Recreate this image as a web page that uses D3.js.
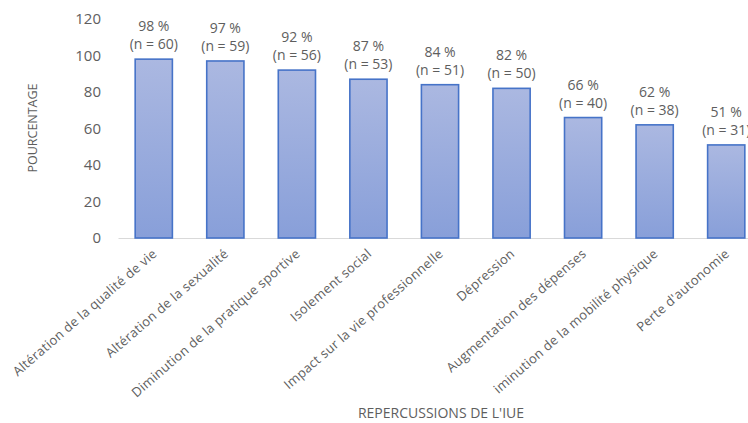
<!DOCTYPE html>
<html>
<head>
<meta charset="utf-8">
<script src="https://cdn.jsdelivr.net/npm/d3@7"></script>
<style>
  html, body { margin: 0; padding: 0; background: #fff; }
  svg { display: block; font-family: "Open Sans", "DejaVu Sans", sans-serif; }
</style>
</head>
<body>
<svg id="chart" width="748" height="423"></svg>
<script>
const categories = [
  "Altération de la qualité de vie",
  "Altération de la sexualité",
  "Diminution de la pratique sportive",
  "Isolement social",
  "Impact sur la vie professionnelle",
  "Dépression",
  "Augmentation des dépenses",
  "iminution de la mobilité physique",
  "Perte d'autonomie"
];
const percentages = [98, 97, 92, 87, 84, 82, 66, 62, 51];
const counts = [60, 59, 56, 53, 51, 50, 40, 38, 31];
const yTicks = [0, 20, 40, 60, 80, 100, 120];
const yAxisTitle = "POURCENTAGE";
const xAxisTitle = "REPERCUSSIONS DE L'IUE";

const svg = d3.select("#chart");
const textColor = "#5e5e5e";

const x = d3.scaleBand().domain(categories).range([118, 762]).paddingInner(0.48).paddingOuter(0.24);
const y = d3.scaleLinear().domain([0, 120]).range([238, 19]);

const defs = svg.append("defs");
const grad = defs.append("linearGradient").attr("id", "barGrad")
  .attr("x1", 0).attr("y1", 0).attr("x2", 0).attr("y2", 1);
grad.append("stop").attr("offset", "0%").attr("stop-color", "#abb8e1");
grad.append("stop").attr("offset", "100%").attr("stop-color", "#889fd9");

// Y axis
const yAxis = svg.append("g").attr("transform", "translate(103,0)")
  .call(d3.axisLeft(y).tickValues(yTicks).tickSize(0).tickPadding(2));
yAxis.select(".domain").remove();
yAxis.selectAll("text").attr("fill", textColor).attr("font-size", 15)
  .attr("font-family", "'Open Sans', sans-serif");

// Baseline (x axis)
const xAxis = svg.append("g").attr("transform", `translate(0,${y(0)})`)
  .call(d3.axisBottom(x).tickSize(0).tickFormat(""));
xAxis.select(".domain").attr("stroke", "#d9d9d9").attr("stroke-width", 1.2);

// Bars
const data = categories.map((c, i) => ({ c, p: percentages[i], n: counts[i] }));
svg.append("g").selectAll("rect").data(data).join("rect")
  .attr("x", d => x(d.c))
  .attr("y", d => y(d.p))
  .attr("width", x.bandwidth())
  .attr("height", d => y(0) - y(d.p))
  .attr("fill", "url(#barGrad)")
  .attr("stroke", "#4673c8")
  .attr("stroke-width", 1.6);

// Value labels (two separate lines)
const vl = svg.append("g").attr("text-anchor", "middle").attr("fill", textColor).attr("font-size", 14);
vl.selectAll("text.pct").data(data).join("text").attr("class", "pct")
  .attr("x", d => x(d.c) + x.bandwidth() / 2)
  .attr("y", d => y(d.p) - 28)
  .text(d => `${d.p} %`);
vl.selectAll("text.cnt").data(data).join("text").attr("class", "cnt")
  .attr("x", d => x(d.c) + x.bandwidth() / 2)
  .attr("y", d => y(d.p) - 10)
  .text(d => `(n = ${d.n})`);

// Category labels rotated
svg.append("g").selectAll("text").data(data).join("text")
  .attr("text-anchor", "end")
  .attr("fill", textColor)
  .attr("font-size", 13)
  .attr("letter-spacing", 0.3)
  .attr("transform", d => `translate(${x(d.c) + x.bandwidth() / 2 + 4},${y(0) + 17}) rotate(-41)`)
  .text(d => d.c);

// Axis titles
svg.append("text")
  .attr("transform", "translate(37,128) rotate(-90)")
  .attr("text-anchor", "middle")
  .attr("fill", textColor)
  .attr("font-size", 12.5)
  .text(yAxisTitle);

svg.append("text")
  .attr("x", 441).attr("y", 418)
  .attr("text-anchor", "middle")
  .attr("fill", textColor)
  .attr("font-size", 14)
  .text(xAxisTitle);
</script>
</body>
</html>
